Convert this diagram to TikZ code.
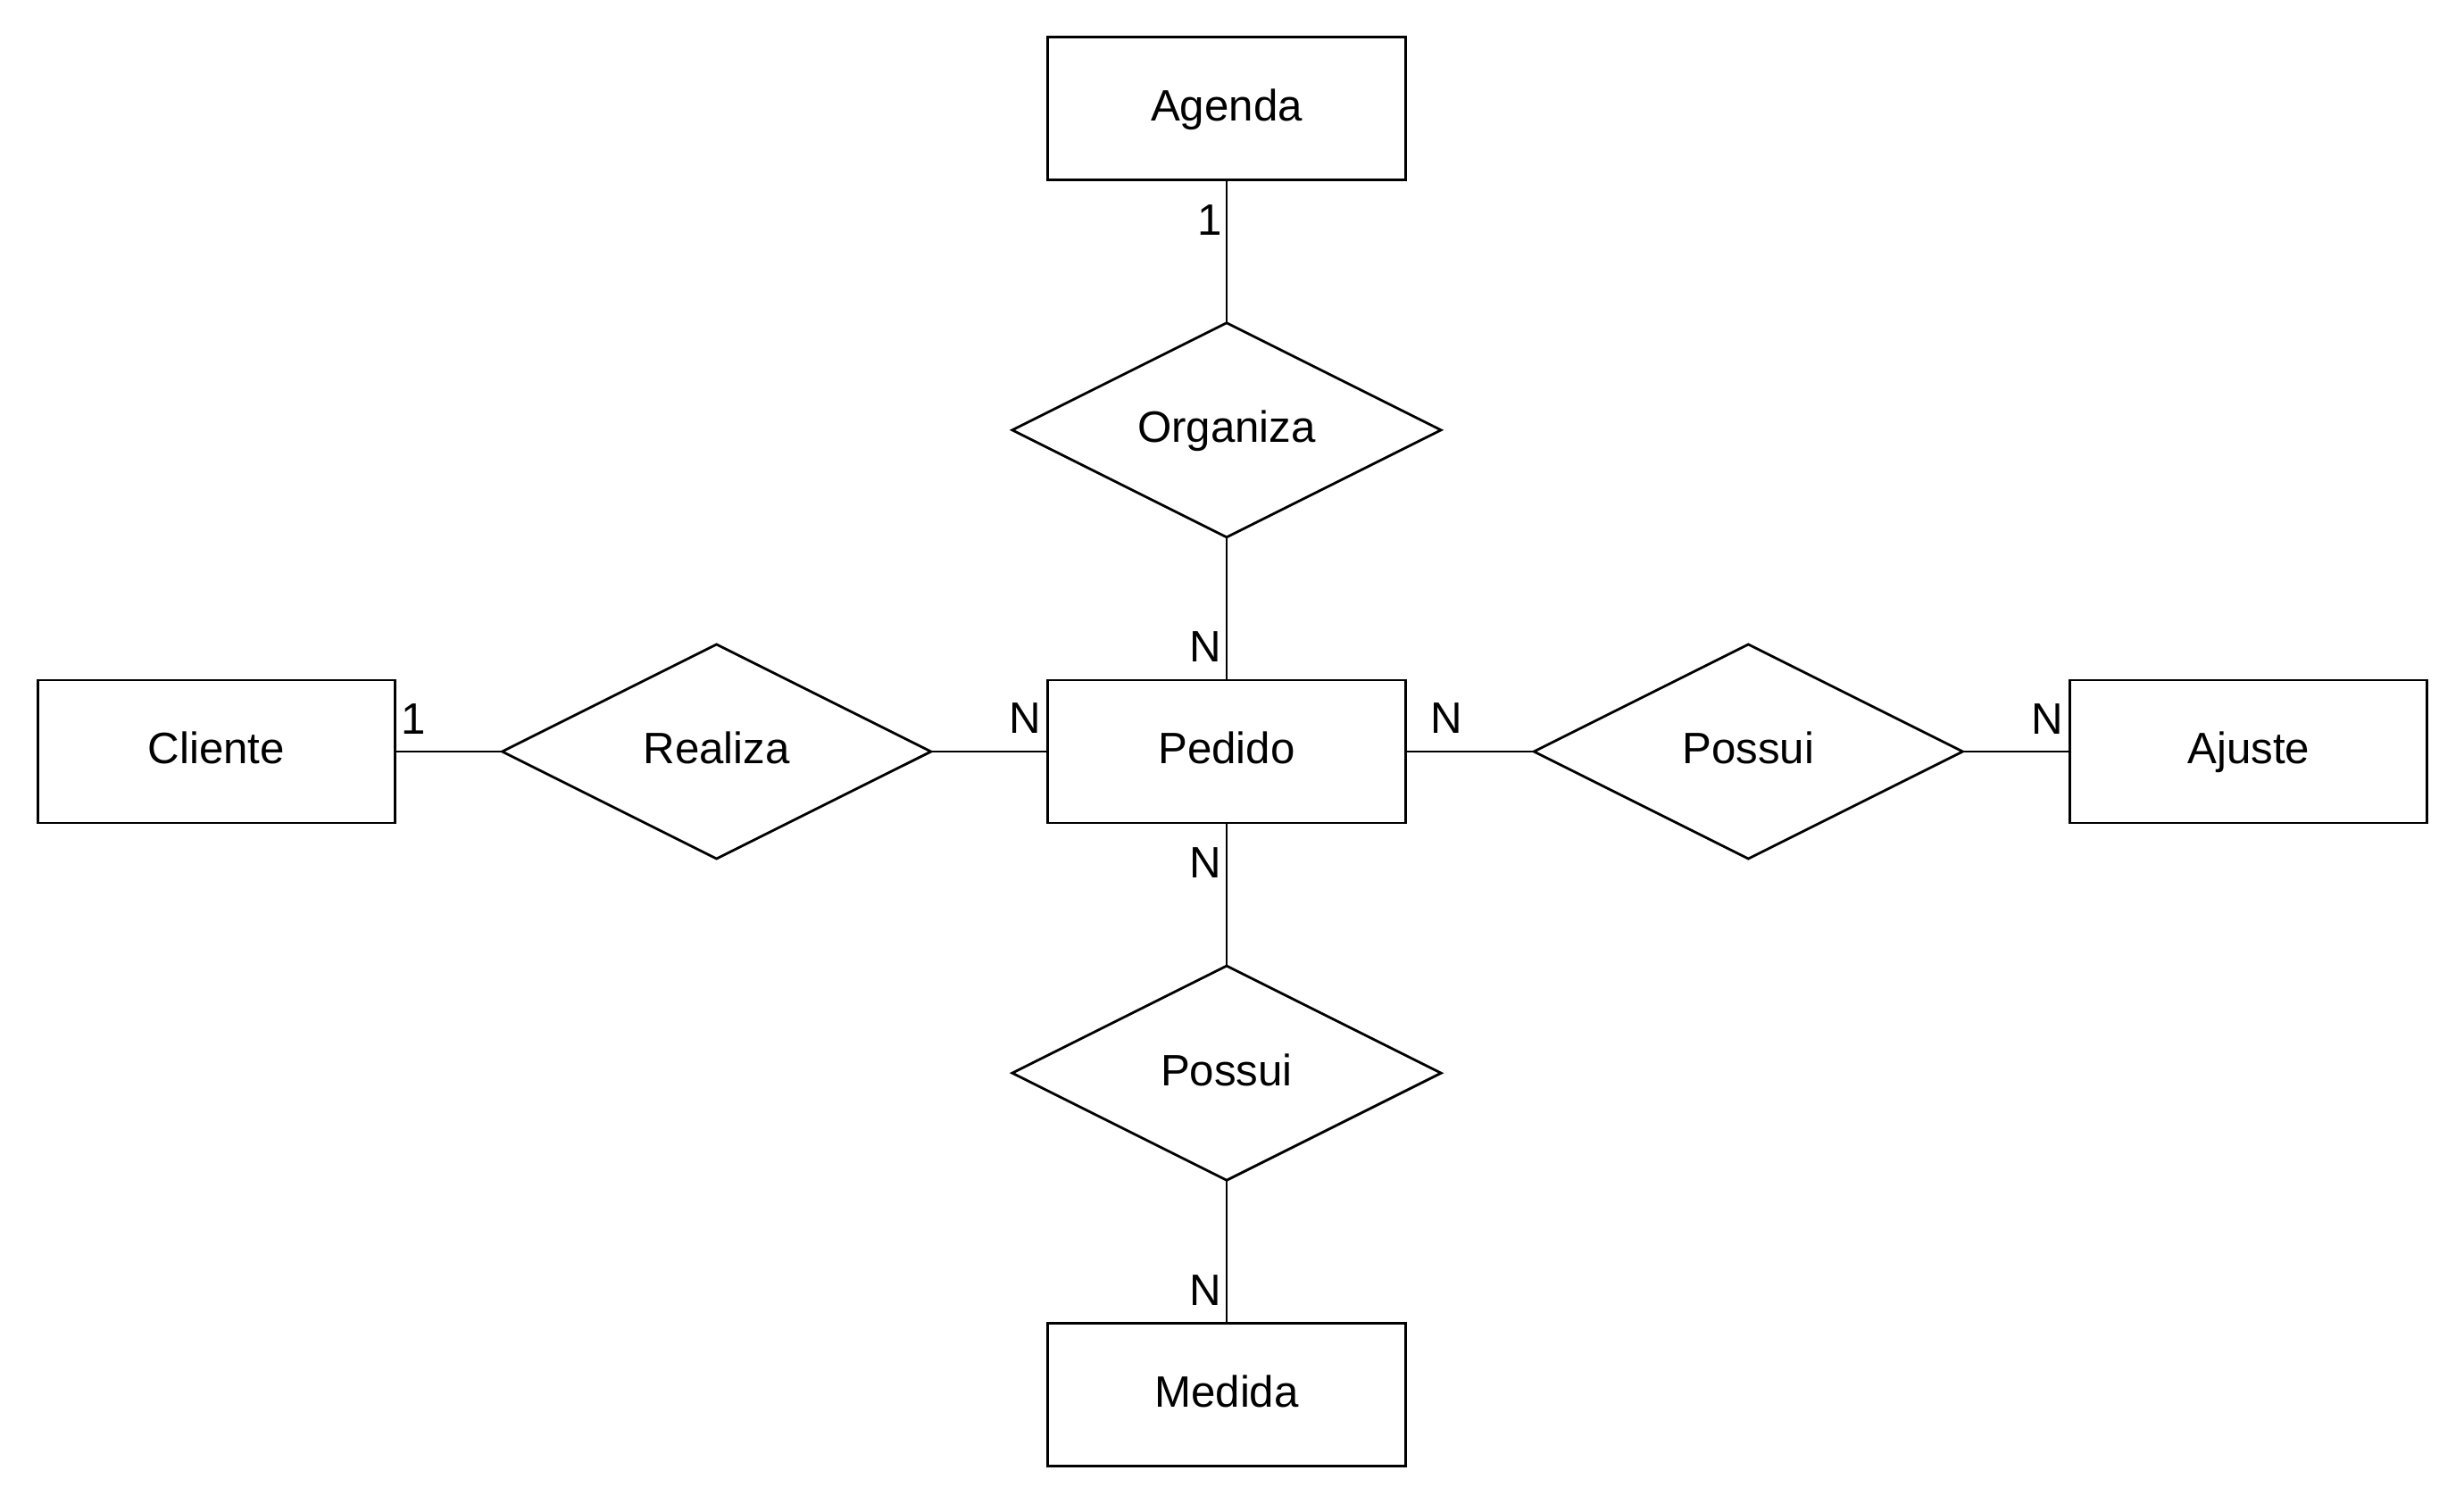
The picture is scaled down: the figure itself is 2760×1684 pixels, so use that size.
\documentclass[tikz,border=0pt]{standalone}
\usepackage{fontspec}
\setmainfont{Liberation Sans}
\usetikzlibrary{positioning,shapes.geometric}

\begin{document}
\begin{tikzpicture}[x=0.01cm,y=-0.01cm,line width=0.8pt,node distance=16mm,
    entity/.style={draw,rectangle,minimum width=4cm,minimum height=1.6cm,inner sep=0pt,outer sep=0pt,
        font=\fontsize{14}{16}\selectfont,text height=0.95em,text depth=0.16em},
    relship/.style={draw,diamond,minimum width=4.8cm,minimum height=2.4cm,inner sep=0pt,outer sep=0pt,
        font=\fontsize{14}{16}\selectfont,text height=0.95em,text depth=0.16em},
    card/.style={inner sep=0pt,font=\fontsize{14}{16}\selectfont}]

                \useasboundingbox (0,0) rectangle (2760,1684);

                \node[entity] (pedido) at (1374,842) {Pedido};

                \node[relship] (organiza) [above=of pedido] {Organiza};

                \node[entity] (agenda) [above=of organiza] {Agenda};

                \node[relship] (possuimed) [below=of pedido] {Possui};

                \node[entity] (medida) [below=of possuimed] {Medida};

                

                \node[relship] (realiza) [left=1.31cm of pedido] {Realiza};

                \node[entity] (cliente) [left=1.2cm of realiza] {Cliente};

                \node[relship] (possuiaj) [right=1.44cm of pedido] {Possui};

                \node[entity] (ajuste) [right=1.2cm of possuiaj] {Ajuste};

                

                \foreach \from/\to in {agenda/organiza, organiza/pedido, pedido/possuimed, possuimed/medida,
                    cliente/realiza, realiza/pedido, pedido/possuiaj, possuiaj/ajuste}
                    {
                    \path[draw] (\from) edge (\to);
                    }

                

                \node[card,anchor=north east] (cardag) at ([xshift=-0.04cm,yshift=-0.27cm]agenda.south) {1};

                \node[card,anchor=south east] (cardpn) at ([xshift=-0.05cm,yshift=0.19cm]pedido.north) {N};

                \node[card,anchor=north east] (cardps) at ([xshift=-0.05cm,yshift=-0.26cm]pedido.south) {N};

                \node[card,anchor=south east] (cardme) at ([xshift=-0.05cm,yshift=0.18cm]medida.north) {N};

                \node[card,anchor=south east] (cardpw) at ([xshift=-0.06cm,yshift=0.19cm]pedido.west) {N};

                \node[card,anchor=south west] (cardpe) at ([xshift=0.27cm,yshift=0.19cm]pedido.east) {N};

                \node[card,anchor=south west] (cardcl) at ([xshift=0.06cm,yshift=0.18cm]cliente.east) {1};

                \node[card,anchor=south east] (cardaj) at ([xshift=-0.06cm,yshift=0.18cm]ajuste.west) {N};

            \end{tikzpicture}
\end{document}
